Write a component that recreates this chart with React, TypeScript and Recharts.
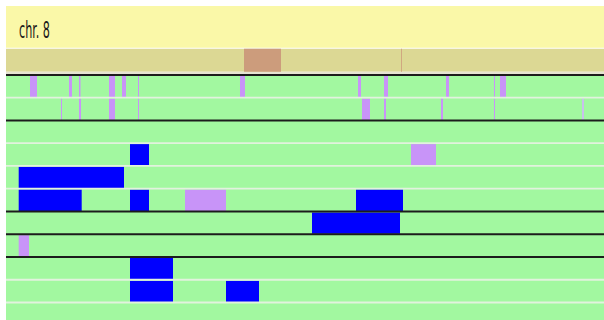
import { ComposedChart, XAxis, YAxis, ReferenceArea } from 'recharts';

type Feature = [number, number, 'b' | 'p' | 'g'];

const chromosome = 'chr. 8';
// ideogram band: highlighted window and one marker
const viewWindow: [number, number] = [238, 275];
const bandMarks: number[] = [395];

// one list per track row, positions along the window
const row1: Feature[] = [
  [24, 31, 'p'], [63, 66, 'p'], [73, 74.5, 'p'], [103, 109, 'p'], [116, 120, 'p'], [132, 133, 'p'],
  [234, 239, 'p'], [352, 355, 'p'], [378, 382, 'p'], [440, 443, 'p'], [488, 489, 'p'], [494, 500, 'p'],
];
const row2: Feature[] = [
  [55, 56, 'p'], [73, 75, 'p'], [103, 109, 'p'], [132, 133, 'p'], [356, 364, 'p'], [378, 380, 'p'],
  [435, 437, 'p'], [488, 489, 'p'], [576, 578, 'g'],
];
const row3: Feature[] = [];
const row4: Feature[] = [[124, 143, 'b'], [405, 430, 'p']];
const row5: Feature[] = [[12.7, 118, 'b']];
const row6: Feature[] = [[12.7, 75.7, 'b'], [124, 143, 'b'], [179, 220, 'p'], [350, 397, 'b']];
const row7: Feature[] = [[306, 394, 'b']];
const row8: Feature[] = [[12.7, 23, 'p']];
const row9: Feature[] = [[124, 167, 'b']];
const row10: Feature[] = [[124, 167, 'b'], [220, 253, 'b']];
const row11: Feature[] = [];

const rows = [row1, row2, row3, row4, row5, row6, row7, row8, row9, row10, row11];
const darkDividers = [0, 2, 6, 7, 8];
const lightDividers = [1, 3, 4, 5, 9, 10];

const colors = { b: '#0000FF', p: '#C894F8', g: '#C8C0EC' };

const ChrLabel = (props: any) => {
  const vb = props.viewBox || { x: 0, y: 0 };
  return (
    <text
      x={vb.x + 13}
      y={vb.y + 32}
      fontFamily="'Liberation Sans Narrow', 'DejaVu Sans Condensed', sans-serif"
      fontSize={23}
      textLength={31}
      lengthAdjust="spacingAndGlyphs"
      fill="#1a1a1a"
    >
      {chromosome}
    </text>
  );
};

export default function App() {
  return (
    <div style={{ position: 'absolute', left: 0, top: 0, background: '#fff' }}>
      <ComposedChart width={604} height={320} data={[{ x: 0 }]} margin={{ top: 6, right: 0, bottom: 0, left: 6 }}>
        <XAxis type="number" dataKey="x" domain={[0, 598]} hide allowDataOverflow />
        <YAxis type="number" domain={[-3.03, 10.77]} reversed hide allowDataOverflow />

        {/* header */}
        <ReferenceArea x1={0} x2={598} y1={-3.03} y2={-1.2} fill="#FAF8A8" fillOpacity={1} stroke="none" label={<ChrLabel />} />
        <ReferenceArea x1={0} x2={598} y1={-1.15} y2={-0.14} fill="#DCD894" fillOpacity={1} stroke="none" />
        <ReferenceArea x1={0} x2={598} y1={-0.14} y2={-0.04} fill="#E6E4D2" fillOpacity={1} stroke="none" />
        <ReferenceArea x1={viewWindow[0]} x2={viewWindow[1]} y1={-1.15} y2={-0.14} fill="#CC9C7C" fillOpacity={1} stroke="none" />
        {bandMarks.map((m, i) => (
          <ReferenceArea key={'bm' + i} x1={m} x2={m + 1} y1={-1.15} y2={-0.14} fill="#D0A880" fillOpacity={1} stroke="none" />
        ))}

        {/* track rows */}
        <ReferenceArea x1={0} x2={598} y1={0} y2={10.77} fill="#A2F8A0" fillOpacity={1} stroke="none" />
        {rows.map((feats, r) =>
          feats.map((f, i) => (
            <ReferenceArea
              key={`f${r}-${i}`}
              x1={f[0]}
              x2={f[1]}
              y1={r + 0.04}
              y2={r + 0.98}
              fill={colors[f[2]]}
              fillOpacity={1}
              stroke="none"
            />
          ))
        )}
        {lightDividers.map((d) => (
          <ReferenceArea key={'l' + d} x1={0} x2={598} y1={d - 0.04} y2={d + 0.04} fill="#E2F2DE" fillOpacity={1} stroke="none" />
        ))}
        {darkDividers.map((d) => (
          <ReferenceArea key={'d' + d} x1={0} x2={598} y1={d - 0.045} y2={d + 0.045} fill="#1c1c1c" fillOpacity={1} stroke="none" />
        ))}
      </ComposedChart>
    </div>
  );
}
